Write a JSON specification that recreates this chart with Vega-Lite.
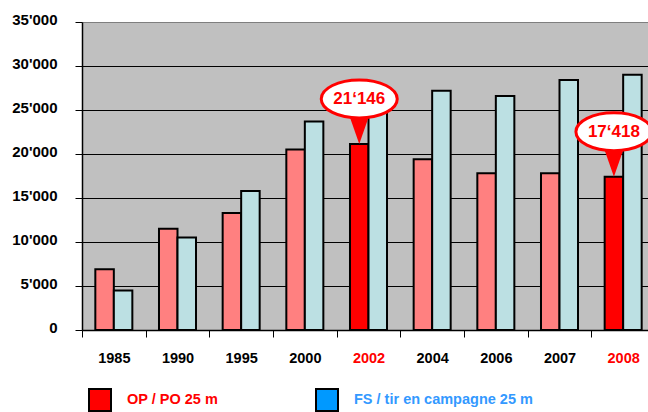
{
  "$schema": "https://vega.github.io/schema/vega-lite/v6.json",
  "width": 566,
  "height": 308,
  "autosize": {"type": "none"},
  "padding": {"left": 82, "top": 22, "right": 0, "bottom": 82},
  "background": "white",
  "config": {"view": {"fill": "#C0C0C0", "stroke": null}, "font": "Liberation Sans"},
  "data": {
    "values": [
      {"year": "1985", "series": "OP / PO 25 m", "value": 6900},
      {"year": "1985", "series": "FS / tir en campagne 25 m", "value": 4500},
      {"year": "1990", "series": "OP / PO 25 m", "value": 11500},
      {"year": "1990", "series": "FS / tir en campagne 25 m", "value": 10500},
      {"year": "1995", "series": "OP / PO 25 m", "value": 13300},
      {"year": "1995", "series": "FS / tir en campagne 25 m", "value": 15800},
      {"year": "2000", "series": "OP / PO 25 m", "value": 20500},
      {"year": "2000", "series": "FS / tir en campagne 25 m", "value": 23700},
      {"year": "2002", "series": "OP / PO 25 m", "value": 21146},
      {"year": "2002", "series": "FS / tir en campagne 25 m", "value": 25000},
      {"year": "2004", "series": "OP / PO 25 m", "value": 19400},
      {"year": "2004", "series": "FS / tir en campagne 25 m", "value": 27200},
      {"year": "2006", "series": "OP / PO 25 m", "value": 17800},
      {"year": "2006", "series": "FS / tir en campagne 25 m", "value": 26600},
      {"year": "2007", "series": "OP / PO 25 m", "value": 17800},
      {"year": "2007", "series": "FS / tir en campagne 25 m", "value": 28400},
      {"year": "2008", "series": "OP / PO 25 m", "value": 17418},
      {"year": "2008", "series": "FS / tir en campagne 25 m", "value": 29000}
    ]
  },
  "encoding": {
    "x": {
      "field": "year",
      "type": "nominal",
      "scale": {"range": [0, 573], "paddingInner": 0, "paddingOuter": 0},
      "axis": {
        "title": null,
        "labelAngle": 0,
        "grid": false,
        "domainColor": "black",
        "domainWidth": 1.5,
        "tickColor": "black",
        "tickSize": 7,
        "tickWidth": 1,
        "tickBand": "extent",
        "labelFont": "Liberation Sans",
        "labelFontSize": 14.5,
        "labelFontWeight": "bold",
        "labelPadding": 14,
        "labelColor": {"condition": {"test": "datum.value == '2002' || datum.value == '2008'", "value": "#FF0000"}, "value": "black"}
      }
    },
    "xOffset": {
      "field": "series",
      "type": "nominal",
      "scale": {"domain": ["OP / PO 25 m", "FS / tir en campagne 25 m"], "paddingInner": 0, "paddingOuter": 0.72}
    },
    "y": {
      "field": "value",
      "type": "quantitative",
      "scale": {"domain": [0, 35000], "nice": false},
      "axis": {
        "title": null,
        "values": [0, 5000, 10000, 15000, 20000, 25000, 30000, 35000],
        "labelExpr": "datum.value == 0 ? '0' : replace(format(datum.value, ','), ',', \"'\")",
        "labelFont": "Liberation Sans",
        "labelFontSize": 15,
        "labelFontWeight": "bold",
        "labelColor": "black",
        "labelPadding": 18,
        "labelOffset": -3,
        "labelFlush": false,
        "tickSize": 7,
        "tickColor": "black",
        "tickWidth": 1,
        "domainColor": "black",
        "domainWidth": 1.5,
        "grid": true,
        "gridColor": {"condition": {"test": "datum.value == 35000", "value": "#7F7F7F"}, "value": "black"},
        "gridWidth": 1,
        "gridOpacity": 1
      }
    }
  },
  "layer": [
    {
      "mark": {"type": "bar", "stroke": "black", "strokeWidth": 2, "opacity": 1},
      "encoding": {
        "fill": {
          "field": "series",
          "type": "nominal",
          "scale": {"domain": ["OP / PO 25 m", "FS / tir en campagne 25 m"], "range": ["#FF0000", "#0099FF"]},
          "condition": [
            {"test": "datum.series == 'OP / PO 25 m' && datum.year != '2002' && datum.year != '2008'", "value": "#FF8080"},
            {"test": "datum.series != 'OP / PO 25 m'", "value": "#BCE0E3"}
          ],
          "legend": {
            "orient": "none",
            "legendX": 6,
            "legendY": 366,
            "direction": "horizontal",
            "title": null,
            "padding": 0,
            "symbolType": "square",
            "symbolSize": 484,
            "symbolStrokeColor": "black",
            "symbolStrokeWidth": 2,
            "symbolOpacity": 1,
            "labelFont": "Liberation Sans",
            "labelFontSize": 14.5,
            "labelFontWeight": "bold",
            "labelOffset": 15,
            "labelLimit": 400,
            "columnPadding": 93,
            "encode": {
              "labels": {"update": {"fill": {"signal": "datum.value == 'OP / PO 25 m' ? '#FF0000' : '#3399FF'"}}}
            }
          }
        }
      }
    },
    {
      "transform": [{"filter": "datum.series == 'OP / PO 25 m' && (datum.year == '2002' || datum.year == '2008')"}],
      "mark": {"type": "point", "shape": "M-0.7,-1L0.7,-1L0,1Z", "size": 900, "filled": true, "fill": "#FF0000", "strokeWidth": 0, "opacity": 1, "yOffset": -15}
    },
    {
      "transform": [{"filter": "datum.series == 'OP / PO 25 m' && (datum.year == '2002' || datum.year == '2008')"}],
      "mark": {"type": "point", "shape": "M-1,0A1,0.5,0,1,0,1,0A1,0.5,0,1,0,-1,0Z", "size": 5776, "filled": true, "fill": "white", "stroke": "#FF0000", "strokeWidth": 3, "opacity": 1, "yOffset": -45}
    },
    {
      "transform": [
        {"filter": "datum.series == 'OP / PO 25 m' && (datum.year == '2002' || datum.year == '2008')"},
        {"calculate": "replace(format(datum.value, ','), ',', '‘')", "as": "label"}
      ],
      "mark": {"type": "text", "font": "Liberation Sans", "fontSize": 17, "fontWeight": "bold", "color": "#FF0000", "align": "center", "baseline": "middle", "yOffset": -45},
      "encoding": {"text": {"field": "label", "type": "nominal"}}
    }
  ]
}
